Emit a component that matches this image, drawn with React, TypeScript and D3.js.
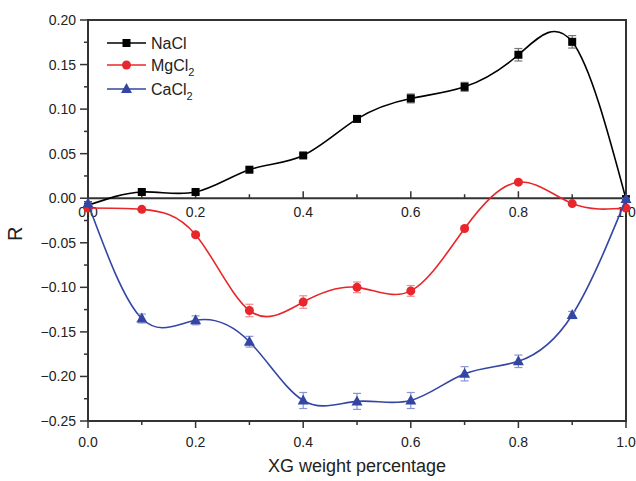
import React, { useRef, useEffect } from 'react';
import * as d3 from 'd3';

const xValues = [0.0, 0.1, 0.2, 0.3, 0.4, 0.5, 0.6, 0.7, 0.8, 0.9, 1.0];

const naclValues = [-0.008, 0.007, 0.007, 0.032, 0.048, 0.089, 0.112, 0.125, 0.161, 0.1755, -0.001];
const naclErrors = [0.001, 0.002, 0.002, 0.002, 0.002, 0.003, 0.005, 0.005, 0.007, 0.007, 0.001];

const mgValues = [-0.011, -0.0125, -0.041, -0.126, -0.1165, -0.1, -0.104, -0.034, 0.018, -0.006, -0.011];
const mgErrors = [0.001, 0.001, 0.002, 0.007, 0.007, 0.006, 0.006, 0.002, 0.002, 0.002, 0.001];

const caValues = [-0.006, -0.135, -0.137, -0.161, -0.227, -0.228, -0.227, -0.197, -0.183, -0.131, -0.001];
const caErrors = [0.001, 0.005, 0.005, 0.006, 0.009, 0.009, 0.009, 0.008, 0.007, 0.004, 0.001];

const yTicks = [0.2, 0.15, 0.1, 0.05, 0, -0.05, -0.1, -0.15, -0.2, -0.25];
const xTickLabels = [0, 0.2, 0.4, 0.6, 0.8, 1.0];

const W = 636;
const H = 481;
const margin = { left: 88, right: 10, top: 20, bottom: 60 };

const series = [
  { name: 'NaCl', sub: '', values: naclValues, errors: naclErrors, color: '#000000', errColor: '#777777', shape: 'square' },
  { name: 'MgCl', sub: '2', values: mgValues, errors: mgErrors, color: '#e8262b', errColor: '#ef8a8a', shape: 'circle' },
  { name: 'CaCl', sub: '2', values: caValues, errors: caErrors, color: '#3446a3', errColor: '#8b95cf', shape: 'triangle' },
];

const App = () => {
  const svgRef = useRef<SVGSVGElement>(null);

  useEffect(() => {
    const svg = d3.select(svgRef.current);
    svg.selectAll('*').remove();

    const x = d3.scaleLinear().domain([0, 1]).range([margin.left, W - margin.right]);
    const y = d3.scaleLinear().domain([-0.25, 0.2]).range([H - margin.bottom, margin.top]);
    const font = 'Arial, "Liberation Sans", sans-serif';
    const axisColor = '#333';

    // frame
    svg.append('rect')
      .attr('x', x(0)).attr('y', y(0.2))
      .attr('width', x(1) - x(0)).attr('height', y(-0.25) - y(0.2))
      .attr('fill', 'none').attr('stroke', axisColor).attr('stroke-width', 2);

    // left axis ticks
    const yMinor = d3.range(-0.25, 0.2001, 0.025);
    svg.append('g').selectAll('line').data(yMinor).join('line')
      .attr('x1', x(0)).attr('x2', (d, i) => x(0) - (i % 2 === 0 ? 8 : 4))
      .attr('y1', d => y(d)).attr('y2', d => y(d))
      .attr('stroke', axisColor).attr('stroke-width', 1.5);
    svg.append('g').selectAll('text').data(yTicks).join('text')
      .attr('x', x(0) - 12).attr('y', d => y(d) + 5)
      .attr('text-anchor', 'end').attr('font-family', font).attr('font-size', 14)
      .attr('fill', '#222')
      .text(d => d3.format('.2f')(d));

    // middle (y=0) axis
    svg.append('line')
      .attr('x1', x(0)).attr('x2', x(1)).attr('y1', y(0)).attr('y2', y(0))
      .attr('stroke', axisColor).attr('stroke-width', 2);
    const xMinor = d3.range(0, 10.01, 1).map(d => d / 10);
    svg.append('g').selectAll('line').data(xMinor).join('line')
      .attr('x1', d => x(d)).attr('x2', d => x(d))
      .attr('y1', y(0)).attr('y2', (d, i) => y(0) - (i % 2 === 0 ? 7 : 4))
      .attr('stroke', axisColor).attr('stroke-width', 1.5);
    svg.append('g').selectAll('text').data(xTickLabels).join('text')
      .attr('x', d => x(d)).attr('y', y(0) + 19)
      .attr('text-anchor', 'middle').attr('font-family', font).attr('font-size', 14)
      .attr('fill', '#222')
      .text(d => d3.format('.1f')(d));

    // bottom axis
    svg.append('g').selectAll('line').data(xMinor).join('line')
      .attr('x1', d => x(d)).attr('x2', d => x(d))
      .attr('y1', y(-0.25)).attr('y2', (d, i) => y(-0.25) + (i % 2 === 0 ? 7 : 4))
      .attr('stroke', axisColor).attr('stroke-width', 1.5);
    svg.append('g').selectAll('text').data(xTickLabels).join('text')
      .attr('x', d => x(d)).attr('y', y(-0.25) + 26)
      .attr('text-anchor', 'middle').attr('font-family', font).attr('font-size', 14)
      .attr('fill', '#222')
      .text(d => d3.format('.1f')(d));

    // axis titles
    svg.append('text')
      .attr('x', (x(0) + x(1)) / 2).attr('y', 472)
      .attr('text-anchor', 'middle').attr('font-family', font).attr('font-size', 18)
      .attr('fill', '#222')
      .text('XG weight percentage');
    svg.append('text')
      .attr('transform', `translate(22, ${y(-0.04)}) rotate(-90)`)
      .attr('text-anchor', 'middle').attr('font-family', font).attr('font-size', 20)
      .attr('fill', '#222')
      .text('R');

    const line = d3.line<number>()
      .x((d, i) => x(xValues[i]))
      .y(d => y(d))
      .curve(d3.curveNatural);

    const drawMarker = (g: any, shape: string, color: string, cx: number, cy: number) => {
      if (shape === 'square') {
        g.append('rect').attr('x', cx - 4).attr('y', cy - 4).attr('width', 8).attr('height', 8).attr('fill', color);
      } else if (shape === 'circle') {
        g.append('circle').attr('cx', cx).attr('cy', cy).attr('r', 4.5).attr('fill', color);
      } else {
        g.append('path').attr('d', `M${cx},${cy - 6}L${cx + 5.5},${cy + 4}L${cx - 5.5},${cy + 4}Z`).attr('fill', color);
      }
    };

    series.forEach(s => {
      const g = svg.append('g');
      g.append('path').datum(s.values)
        .attr('fill', 'none').attr('stroke', s.color).attr('stroke-width', 1.6)
        .attr('d', line);
      s.values.forEach((v, i) => {
        const cx = x(xValues[i]);
        const e = s.errors[i];
        const eg = g.append('g').attr('stroke', s.errColor).attr('stroke-width', 1.2);
        eg.append('line').attr('x1', cx).attr('x2', cx).attr('y1', y(v - e)).attr('y2', y(v + e));
        eg.append('line').attr('x1', cx - 4).attr('x2', cx + 4).attr('y1', y(v - e)).attr('y2', y(v - e));
        eg.append('line').attr('x1', cx - 4).attr('x2', cx + 4).attr('y1', y(v + e)).attr('y2', y(v + e));
        drawMarker(g, s.shape, s.color, cx, y(v));
      });
    });

    // legend
    const legendY = [43, 65, 89];
    series.forEach((s, i) => {
      const g = svg.append('g');
      const ly = legendY[i];
      g.append('line').attr('x1', 107).attr('x2', 146).attr('y1', ly).attr('y2', ly)
        .attr('stroke', s.color).attr('stroke-width', 1.6);
      drawMarker(g, s.shape, s.color, 126.5, ly);
      const t = g.append('text').attr('x', 151).attr('y', ly + 6)
        .attr('font-family', font).attr('font-size', 16).attr('fill', '#222');
      t.append('tspan').text(s.name);
      if (s.sub) t.append('tspan').attr('font-size', 11).attr('dy', 5).text(s.sub);
    });
  }, []);

  return (
    <svg ref={svgRef} width={W} height={H}
      style={{ position: 'absolute', left: 0, top: 0, background: '#fff' }} />
  );
};

export default App;
